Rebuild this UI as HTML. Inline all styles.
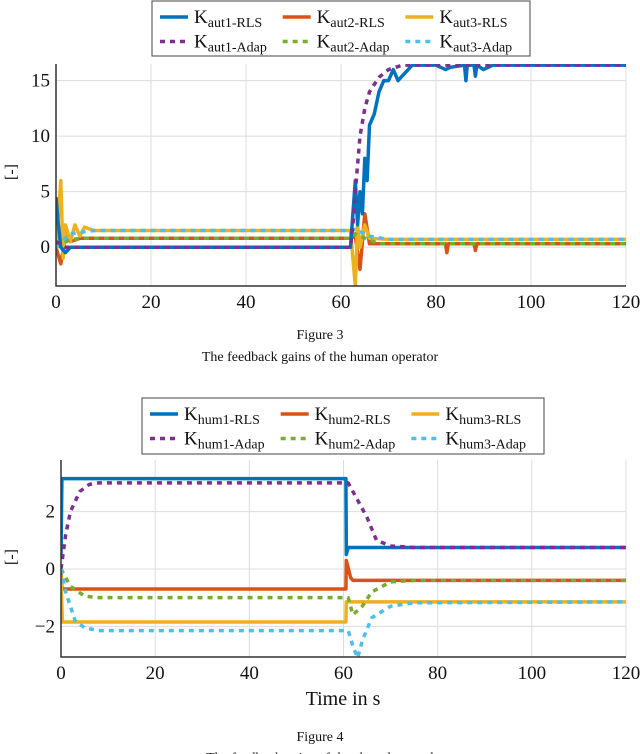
<!DOCTYPE html>
<html><head><meta charset="utf-8"><style>
body{margin:0;background:#fff;width:640px;height:754px;overflow:hidden;font-family:"Liberation Serif",serif}
svg{position:absolute;left:0;top:0}
</style></head><body>
<svg id="s" width="640" height="754"></svg>
<script>
// ---- data ----
const xTicks=[0,20,40,60,80,100,120];
const y1Ticks=[0,5,10,15];
const y2Ticks=[-2,0,2];
const aut1RlsT=[0,0.5,1,2,3,5,8,62,62.5,63,63.5,64,64.5,65,65.5,66,67,68,69,70,71,72,75,80,82,83,86,86.3,86.6,88,88.3,88.6,90,92,120];
const aut1RlsV=[4.5,2,0,-0.5,0,0,0,0,3,6,2,5,3,8,6,11,12,14,15,15,16,15,16.4,16.4,16,16.2,16.4,15,16.4,16.4,15.4,16.4,16,16.4,16.4];
const aut1AdT=[0,2,62,62.5,63,64,65,66,68,70,73,120];
const aut1AdV=[0.5,0,0,2,5,10,12.5,14,15.3,16,16.4,16.4];
const aut2RlsT=[0,1,2,3,5,8,62,63,64,65,66,70,82,82.3,82.6,88,88.3,88.6,120];
const aut2RlsV=[0,-1.5,1,0.5,0.8,0.8,0.8,1,-2,3,0.3,0.3,0.3,-0.5,0.3,0.3,-0.3,0.3,0.3];
const aut3RlsT=[0,1,1.5,2,3,4,5,6,8,62,63,63.5,64,65,66,70,120];
const aut3RlsV=[0,6,-1,2,0.5,2,1,1.8,1.5,1.5,-3.5,2,0,2,0.8,0.7,0.7];
const aut2AdT=[0,3,6,62,63,65,68,72,120];
const aut2AdV=[0,0.7,0.8,0.8,1.2,0.8,0.3,0.3,0.3];
const aut3AdT=[0,3,8,62,63,66,70,120];
const aut3AdV=[0,1.2,1.5,1.5,1.6,1,0.7,0.7];
const hum1RlsT=[0,0.2,60.5,60.6,61,120];
const hum1RlsV=[0.5,3.15,3.15,0.5,0.75,0.75];
const hum1AdT=[0,1,2,4,6,8,61,63,65,67,70,75,120];
const hum1AdV=[0,1.2,2,2.7,2.95,3,3,2.4,1.8,1.0,0.8,0.75,0.75];
const hum2RlsT=[0,0.2,60.5,60.6,61.5,62,120];
const hum2RlsV=[0,-0.7,-0.7,0.3,-0.3,-0.4,-0.4];
const hum2AdT=[0,2,5,8,61,62,64,66,70,75,120];
const hum2AdV=[0,-0.6,-0.95,-1,-1,-1.6,-1.3,-0.8,-0.45,-0.4,-0.4];
const hum3RlsT=[0,0.3,60.5,60.6,120];
const hum3RlsV=[-0.2,-1.85,-1.85,-1.15,-1.15];
const hum3AdT=[0,1,3,5,8,61,62,63,64,66,70,75,120];
const hum3AdV=[0,-0.8,-1.8,-2.05,-2.15,-2.15,-2.7,-3.1,-2.5,-1.7,-1.3,-1.18,-1.15];

const C={b:'#0072bd',o:'#d95319',y:'#edb120',p:'#7e2f8e',g:'#77ac30',c:'#4dbeee'};
const NS='http://www.w3.org/2000/svg';
const S=document.getElementById('s');
function mk(t,a,p){const e=document.createElementNS(NS,t);for(const k in a)e.setAttribute(k,a[k]);(p||S).appendChild(e);return e;}

function chart(id,L,R,T,B,ymin,ymax,yt,series){
  const g=mk('g',{});
  
  
  const X=v=>L+(v-0)/120*(R-L);
  const Y=v=>B-(v-ymin)/(ymax-ymin)*(B-T);
  xTicks.forEach(t=>{
    const l=mk('line',{x1:X(t),x2:X(t),y1:T,y2:B,stroke:'#dcdcdc','stroke-width':1},g);
    
    const tx=mk('text',{x:X(t),y:B+22,'text-anchor':'middle','font-size':19,fill:'#111'},g);
    
    tx.textContent=t;
  });
  yt.forEach(t=>{
    const l=mk('line',{x1:L,x2:R,y1:Y(t),y2:Y(t),stroke:'#dcdcdc','stroke-width':1},g);
    
    const tx=mk('text',{x:L-6,y:Y(t)+6,'text-anchor':'end','font-size':19,fill:'#111'},g);
    
    tx.textContent=t<0?'\u2212'+(-t):t;
  });
  const cp=mk('clipPath',{id:id+'-clip'},g);
  mk('rect',{x:L,y:T,width:R-L,height:B-T},cp);
  series.forEach(s=>{
    const d=s.t.map((t,i)=>(i?'L':'M')+X(t).toFixed(1)+','+Y(s.v[i]).toFixed(1)).join('');
    const p=mk('path',{d:d,fill:'none',stroke:s.c,'stroke-width':3.5,'stroke-linejoin':'round','clip-path':'url(#'+id+'-clip)'},g);
    if(s.dash)p.setAttribute('stroke-dasharray','5,5');
    
    
  });
  const ax=mk('path',{d:`M${L},${T}V${B}H${R}`,fill:'none',stroke:'#333','stroke-width':1.5},g);
  
}
chart('chart-aut',56,626,64,286,-3.5,16.5,y1Ticks,[
 {t:aut2RlsT,v:aut2RlsV,c:C.o,n:'kaut2-rls-line'},
 {t:aut3RlsT,v:aut3RlsV,c:C.y,n:'kaut3-rls-line'},
 {t:aut2AdT,v:aut2AdV,c:C.g,dash:1,n:'kaut2-adap-line'},
 {t:aut3AdT,v:aut3AdV,c:C.c,dash:1,n:'kaut3-adap-line'},
 {t:aut1RlsT,v:aut1RlsV,c:C.b,n:'kaut1-rls-line'},
 {t:aut1AdT,v:aut1AdV,c:C.p,dash:1,n:'kaut1-adap-line'}]);
chart('chart-hum',61,626,460,657,-3.07,3.8,y2Ticks,[
 {t:hum1RlsT,v:hum1RlsV,c:C.b,n:'khum1-rls-line'},
 {t:hum2RlsT,v:hum2RlsV,c:C.o,n:'khum2-rls-line'},
 {t:hum3RlsT,v:hum3RlsV,c:C.y,n:'khum3-rls-line'},
 {t:hum1AdT,v:hum1AdV,c:C.p,dash:1,n:'khum1-adap-line'},
 {t:hum2AdT,v:hum2AdV,c:C.g,dash:1,n:'khum2-adap-line'},
 {t:hum3AdT,v:hum3AdV,c:C.c,dash:1,n:'khum3-adap-line'}]);

function legend(id,x,y,w,h,sub,items){
  const g=mk('g',{});
  
  
  mk('rect',{x:x,y:y,width:w,height:h,fill:'#fff',stroke:'#444','stroke-width':1},g);
  const colW=(w-10)/3;
  items.forEach((it,i)=>{
    const cx=x+6+(i%3)*colW, cy=y+16+Math.floor(i/3)*24.5;
    const e=mk('g',{},g);
    
    
    const l=mk('line',{x1:cx+2,x2:cx+30,y1:cy,y2:cy,stroke:it[1],'stroke-width':3.5},e);
    if(it[2])l.setAttribute('stroke-dasharray','5,5');
    const t=mk('text',{x:cx+36,y:cy+6,'font-size':19,fill:'#111'},e);
    t.innerHTML='K<tspan font-size="14" dy="4">'+sub+it[0]+'</tspan>';
  });
}
legend('legend-aut',152,1,378,55,'aut',[['1-RLS',C.b],['2-RLS',C.o],['3-RLS',C.y],['1-Adap',C.p,1],['2-Adap',C.g,1],['3-Adap',C.c,1]]);
legend('legend-hum',142,398,402,56,'hum',[['1-RLS',C.b],['2-RLS',C.o],['3-RLS',C.y],['1-Adap',C.p,1],['2-Adap',C.g,1],['3-Adap',C.c,1]]);

function txt(name,x,y,s,str,rot){
  const t=mk('text',{x:x,y:y,'font-size':s,'text-anchor':'middle',fill:'#111'});
  if(rot)t.setAttribute('transform',`rotate(-90 ${x} ${y})`);
  
  
  t.textContent=str;
}
txt('y-axis-title-1',16,172,16,'[-]',1);
txt('y-axis-title-2',16,557,16,'[-]',1);
txt('x-axis-title',343,705,20,'Time in s');
txt('figure-3-label',320,339,14,'Figure 3');
txt('figure-3-caption',320,361,14,'The feedback gains of the human operator');
txt('figure-4-label',320,741,14,'Figure 4');
txt('figure-4-caption',320,762,14,'The feedback gains of the shared control');
</script>
</body></html>
